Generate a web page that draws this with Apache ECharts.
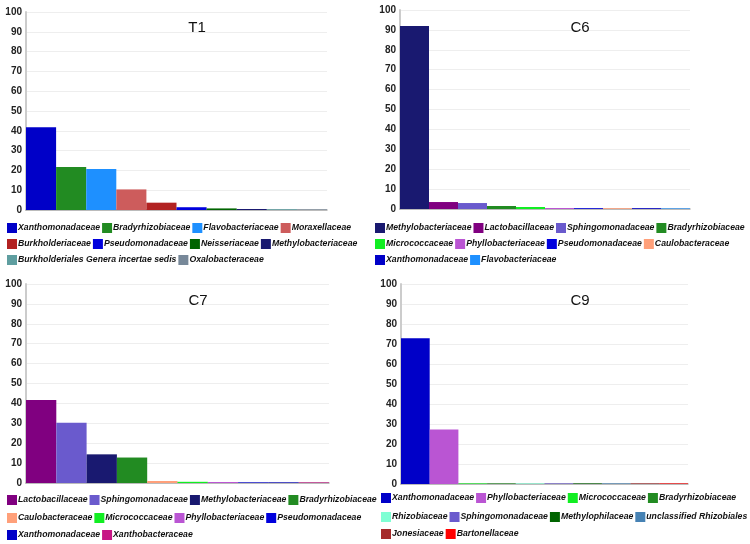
<!DOCTYPE html>
<html>
<head>
<meta charset="utf-8">
<script src="https://cdn.jsdelivr.net/npm/echarts@6/dist/echarts.min.js"></script>
<style>html,body{margin:0;padding:0;background:#fff;}#c{width:750px;height:544px;}</style>
</head>
<body>
<div id="c"></div>
<script>
// ---- data ----
const titles = ['T1', 'C6', 'C7', 'C9'];

const categoriesT1 = ['Xanthomonadaceae', 'Bradyrhizobiaceae', 'Flavobacteriaceae', 'Moraxellaceae',
  'Burkholderiaceae', 'Pseudomonadaceae', 'Neisseriaceae', 'Methylobacteriaceae',
  'Burkholderiales Genera incertae sedis', 'Oxalobacteraceae'];
const valuesT1 = [41.8, 21.7, 20.7, 10.4, 3.7, 1.4, 0.8, 0.5, 0.4, 0.3];

const categoriesC6 = ['Methylobacteriaceae', 'Lactobacillaceae', 'Sphingomonadaceae', 'Bradyrhizobiaceae',
  'Micrococcaceae', 'Phyllobacteriaceae', 'Pseudomonadaceae', 'Caulobacteraceae',
  'Xanthomonadaceae', 'Flavobacteriaceae'];
const valuesC6 = [92, 3.5, 3.0, 1.5, 1.0, 0.5, 0.4, 0.4, 0.4, 0.3];

const categoriesC7 = ['Lactobacillaceae', 'Sphingomonadaceae', 'Methylobacteriaceae', 'Bradyrhizobiaceae',
  'Caulobacteraceae', 'Micrococcaceae', 'Phyllobacteriaceae', 'Pseudomonadaceae',
  'Xanthomonadaceae', 'Xanthobacteraceae'];
const valuesC7 = [41.7, 30.3, 14.4, 12.8, 1.0, 0.6, 0.5, 0.3, 0.3, 0.3];

const categoriesC9 = ['Xanthomonadaceae', 'Phyllobacteriaceae', 'Micrococcaceae', 'Bradyrhizobiaceae',
  'Rhizobiaceae', 'Sphingomonadaceae', 'Methylophilaceae', 'unclassified Rhizobiales',
  'Jonesiaceae', 'Bartonellaceae'];
const valuesC9 = [72.9, 27.2, 0.3, 0.3, 0.3, 0.3, 0.3, 0.3, 0.3, 0.3];

const yTicks = [0, 10, 20, 30, 40, 50, 60, 70, 80, 90, 100];

// ---- styles ----
const familyColors = {
  'Xanthomonadaceae': '#0000c8',
  'Bradyrhizobiaceae': '#228b22',
  'Flavobacteriaceae': '#1e90ff',
  'Moraxellaceae': '#cd5c5c',
  'Burkholderiaceae': '#b22222',
  'Pseudomonadaceae': '#0000dd',
  'Neisseriaceae': '#006400',
  'Methylobacteriaceae': '#191970',
  'Burkholderiales Genera incertae sedis': '#5f9ea0',
  'Oxalobacteraceae': '#778899',
  'Lactobacillaceae': '#800080',
  'Sphingomonadaceae': '#6a5acd',
  'Micrococcaceae': '#11ee22',
  'Phyllobacteriaceae': '#ba55d3',
  'Caulobacteraceae': '#ffa07a',
  'Xanthobacteraceae': '#c71585',
  'Rhizobiaceae': '#7fffd4',
  'Methylophilaceae': '#006400',
  'unclassified Rhizobiales': '#4682b4',
  'Jonesiaceae': '#a52a2a',
  'Bartonellaceae': '#ff0000'
};

// ---- layout ----
const panels = [
  { cats: categoriesT1, vals: valuesT1, grid: { left: 26, top: 12, width: 301, height: 198 },
    title: { x: 192, y: 15 }, legendX: 7, legendRows: [223, 239, 255] },
  { cats: categoriesC6, vals: valuesC6, grid: { left: 400, top: 10, width: 290, height: 199 },
    title: { x: 575, y: 15 }, legendX: 375, legendRows: [223, 239, 255] },
  { cats: categoriesC7, vals: valuesC7, grid: { left: 26, top: 284, width: 303, height: 199 },
    title: { x: 193, y: 288 }, legendX: 7, legendRows: [495, 513, 530] },
  { cats: categoriesC9, vals: valuesC9, grid: { left: 401, top: 284, width: 287, height: 200 },
    title: { x: 575, y: 288 }, legendX: 381, legendRows: [493, 512, 529] }
];
const rowSplits = [[0, 4], [4, 8], [8, 10]];

const option = {
  animation: false,
  backgroundColor: '#fff',
  title: [], grid: [], xAxis: [], yAxis: [], legend: [], series: []
};

panels.forEach((p, pi) => {
  option.title.push({
    text: titles[pi], left: p.title.x, top: p.title.y, textAlign: 'center',
    textStyle: { fontFamily: 'Liberation Sans, Arial, sans-serif', fontSize: 15, fontWeight: 'normal', color: '#111' }
  });
  option.grid.push(Object.assign({ containLabel: false }, p.grid));
  option.xAxis.push({
    type: 'category', gridIndex: pi, data: p.cats,
    axisLine: { show: true, lineStyle: { color: '#aaaaaa', width: 1.5 } },
    axisTick: { show: false }, axisLabel: { show: false }, splitLine: { show: false }
  });
  option.yAxis.push({
    type: 'value', gridIndex: pi, min: yTicks[0], max: yTicks[yTicks.length - 1], interval: yTicks[1] - yTicks[0],
    axisLine: { show: true, lineStyle: { color: '#cccccc', width: 2 } },
    axisTick: { show: false },
    axisLabel: { margin: 4, fontFamily: 'Liberation Sans, Arial, sans-serif', fontSize: 10, fontWeight: 'bold', color: '#222' },
    splitLine: { show: true, lineStyle: { color: '#eeeeee', width: 1 } }
  });
  p.cats.forEach((name, i) => {
    option.series.push({
      type: 'bar', name: name, xAxisIndex: pi, yAxisIndex: pi, stack: 'panel' + pi,
      barCategoryGap: '0%',
      data: p.vals.map((v, j) => (j === i ? v : '-')),
      itemStyle: { color: familyColors[name] }
    });
  });
  rowSplits.forEach((r, ri) => {
    option.legend.push({
      left: p.legendX, top: p.legendRows[ri], width: 400, orient: 'horizontal', padding: 0,
      itemWidth: 10, itemHeight: 10, itemGap: 2, icon: 'rect', selectedMode: false,
      data: p.cats.slice(r[0], r[1]),
      textStyle: { fontFamily: 'Liberation Sans, Arial, sans-serif', fontSize: 8.7,
        fontStyle: 'italic', fontWeight: 'bold', color: '#111', padding: [0, 0, 0, -4] }
    });
  });
});

const chart = echarts.init(document.getElementById('c'), null, { renderer: 'canvas' });
chart.setOption(option);
</script>
</body>
</html>
